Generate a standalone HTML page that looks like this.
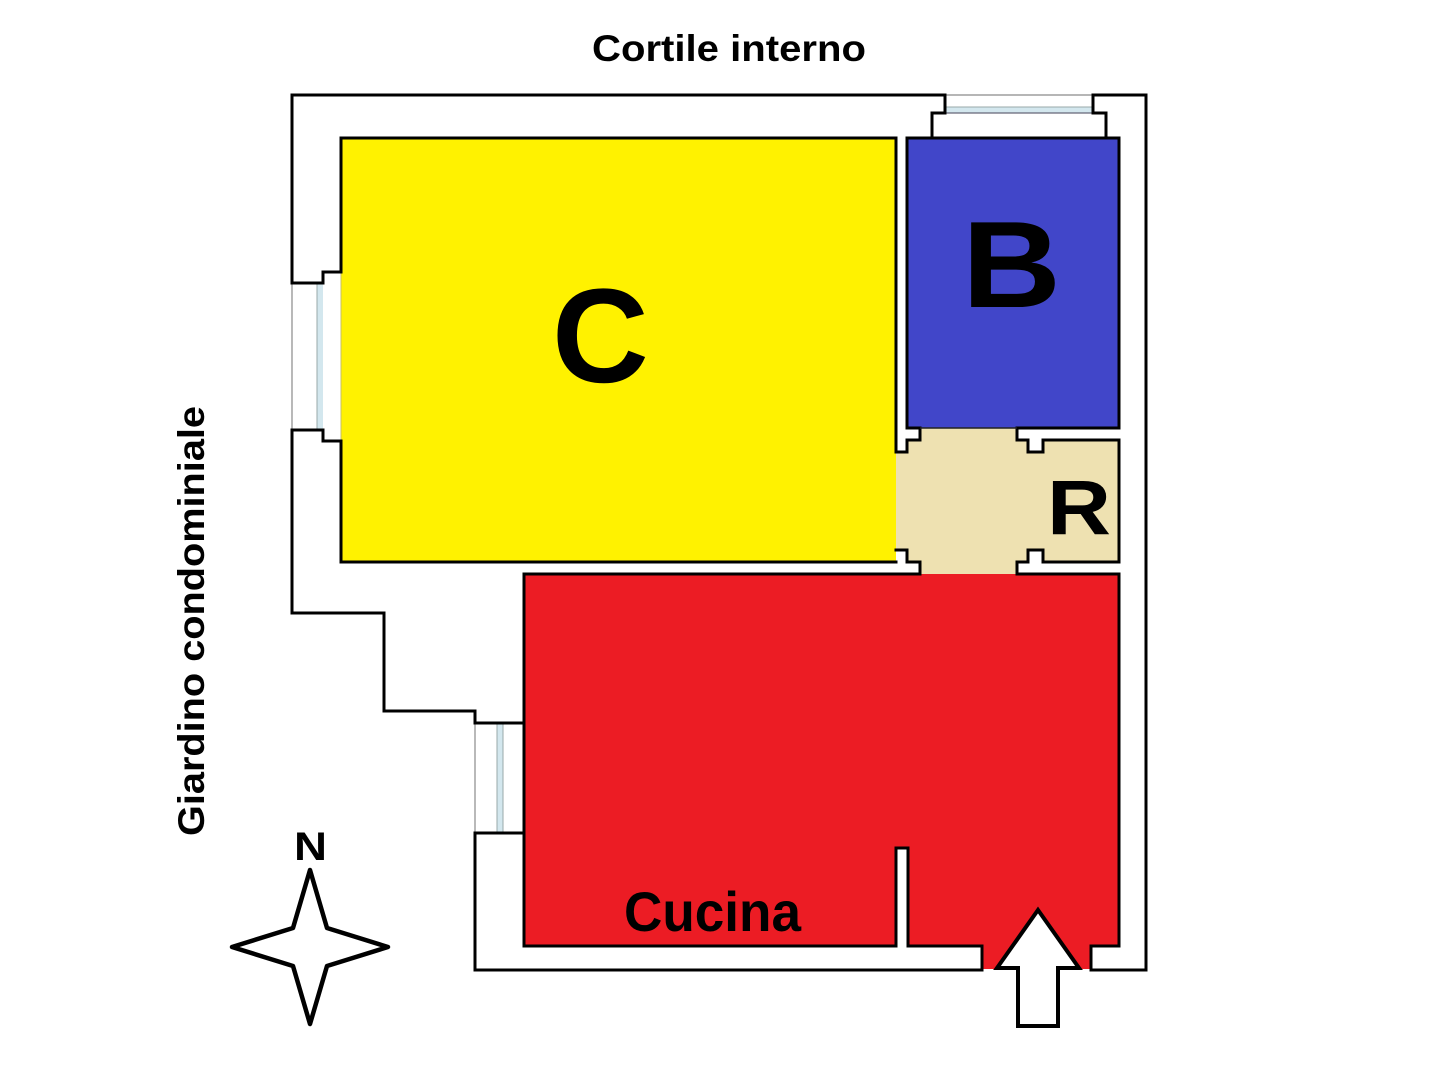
<!DOCTYPE html>
<html>
<head>
<meta charset="utf-8">
<style>
html,body{margin:0;padding:0;background:#fff;}
svg{display:block;}
text{font-family:"Liberation Sans",Arial,sans-serif;font-weight:bold;fill:#000;}
</style>
</head>
<body>
<svg width="1429" height="1090" viewBox="0 0 1429 1090" xmlns="http://www.w3.org/2000/svg">
  <rect x="0" y="0" width="1429" height="1090" fill="#fff"/>

  <!-- Room fills -->
  <rect x="341" y="138" width="555" height="424" fill="#FFF200"/>
  <rect x="907" y="138" width="212" height="290" fill="#4146C9"/>
  <rect x="896" y="428" width="223" height="146" fill="#EEE1B1"/>
  <polygon points="524,574 1119,574 1119,946 1091,946 1091,969 982,969 982,946 908,946 908,848 896,848 896,946 524,946" fill="#EC1C24"/>

  <!-- jamb white pieces -->
  <polygon points="896,428 920,428 920,440 907,440 907,452 896,452" fill="#fff"/>
  <polygon points="1017,428 1119,428 1119,440 1043,440 1043,452 1028,452 1028,440 1017,440" fill="#fff"/>
  <polygon points="896,550 907,550 907,562 920,562 920,574 896,574" fill="#fff"/>
  <polygon points="1017,574 1017,562 1028,562 1028,550 1043,550 1043,562 1119,562 1119,574" fill="#fff"/>

  <!-- Windows -->
  <line x1="292" y1="283" x2="292" y2="430" stroke="#8a8a8a" stroke-width="1.2"/>
  <rect x="317" y="283" width="6" height="147" fill="#D3E7EE"/>
  <line x1="317" y1="283" x2="317" y2="430" stroke="#9aa" stroke-width="1"/>
  <line x1="341" y1="272" x2="341" y2="441" stroke="#c8c060" stroke-width="1"/>
  <line x1="475" y1="723" x2="475" y2="833" stroke="#8a8a8a" stroke-width="1.2"/>
  <rect x="497" y="723" width="6" height="110" fill="#D3E7EE"/>
  <line x1="497" y1="723" x2="497" y2="833" stroke="#9aa" stroke-width="1"/>
  <line x1="503" y1="723" x2="503" y2="833" stroke="#9aa" stroke-width="1"/>
  <line x1="945" y1="95" x2="1093" y2="95" stroke="#8a8a8a" stroke-width="1.2"/>
  <rect x="945" y="107" width="148" height="6" fill="#D3E7EE"/>
  <line x1="945" y1="107" x2="1093" y2="107" stroke="#9aa" stroke-width="1"/>
  <line x1="945" y1="113" x2="1093" y2="113" stroke="#667" stroke-width="1.2"/>

  <g fill="none" stroke="#000" stroke-width="3" stroke-linejoin="miter" stroke-linecap="square">
    <polyline points="341,272 323,272 323,283 292,283 292,95 945,95 945,113 932,113 932,138"/>
    <polyline points="1106,138 1106,113 1093,113 1093,95 1146,95 1146,970 1091,970 1091,946 1119,946 1119,574 1017,574"/>
    <polyline points="341,441 323,441 323,430 292,430 292,613 384,613 384,711 475,711 475,723 524,723"/>
    <polyline points="524,833 475,833 475,970 982,970 982,946 908,946 908,848 896,848 896,946 524,946 524,574 920,574 920,562 907,562 907,550 896,550"/>
    <polyline points="341,272 341,138 896,138 896,452 907,452 907,440 920,440 920,428 907,428 907,138 1119,138 1119,428"/>
    <polyline points="341,441 341,562 896,562"/>
    <polyline points="1119,428 1017,428 1017,440 1028,440 1028,452 1043,452 1043,440 1119,440 1119,562 1043,562 1043,550 1028,550 1028,562 1017,562 1017,574"/>
  </g>
  <line x1="920" y1="428" x2="1017" y2="428" stroke="#222" stroke-width="1.5"/>

  <!-- Entrance arrow -->
  <polygon points="1038,910 1079,968 1058,968 1058,1026 1018,1026 1018,968 997,968" fill="#fff" stroke="#000" stroke-width="4" stroke-linejoin="miter"/>

  <!-- Compass star -->
  <path d="M310,870 L327,928 L388,947 L327,966 L310,1024 L293,966 L232,947 L293,928 Z" fill="#fff" stroke="#000" stroke-width="4.5" stroke-linejoin="round"/>

  <!-- Labels -->
  <text x="592" y="61" font-size="37" textLength="274" lengthAdjust="spacingAndGlyphs">Cortile interno</text>
  <text transform="translate(204,836) rotate(-90)" x="0" y="0" font-size="37" textLength="430" lengthAdjust="spacingAndGlyphs">Giardino condominiale</text>
  <text x="294" y="860" font-size="40" textLength="33" lengthAdjust="spacingAndGlyphs">N</text>
  <text x="552" y="382" font-size="134">C</text>
  <text x="962" y="307" font-size="123" textLength="99" lengthAdjust="spacingAndGlyphs">B</text>
  <text x="1047" y="534" font-size="77" textLength="64" lengthAdjust="spacingAndGlyphs">R</text>
  <text x="624" y="931" font-size="56" textLength="177" lengthAdjust="spacingAndGlyphs">Cucina</text>
</svg>
</body>
</html>
